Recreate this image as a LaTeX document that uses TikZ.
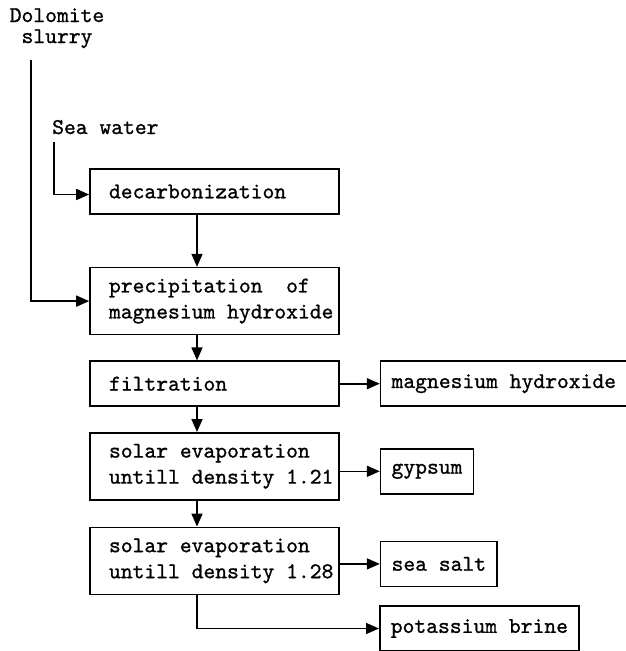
\documentclass[tikz,border=0pt]{standalone}
\usepackage{fontspec}
\usepackage{tikz}
\usetikzlibrary{positioning,arrows.meta}
\newfontfamily\typewriter[FakeBold=1]{lmmono10-regular.otf}

\begin{document}
\begin{tikzpicture}[
        x=1pt, y=-1pt,
        font=\fontsize{22.5}{26}\selectfont\typewriter,
        stage/.style={
            draw,
            rectangle,
            line width=1.6pt,
            text width=240pt,
            inner xsep=4.5pt,
            align=left,
            execute at begin node={\leftskip=14.5pt\spaceskip=\fontdimen2\font\relax},
            minimum height=45pt
        },
        tall/.style={
            stage,
            minimum height=67pt
        },
        product/.style={
            draw,
            rectangle,
            line width=1.6pt,
            inner xsep=11pt,
            minimum height=45pt
        },
        arrow/.style={
            -{Triangle[length=13pt,width=11pt]},
            line width=1.6pt
        },
        feed/.style={
            inner sep=0pt
        }
    ]
        \useasboundingbox (0,0) rectangle (626,651);
        % feeds
        \node (dolo) [feed, align=center, font=\fontsize{22.5}{21}\selectfont\typewriter] at (57,28.2) {Dolomite\\slurry};
        \node (sea) [feed, anchor=base west] at (52,134) {Sea water};
        \coordinate (doloin) at (31,60);
        \coordinate (seain) at (54,142);
        % process column
        \node (decarb) [stage] at (214.5,191.5) {decarbonization};
        \node (precip) [tall, below=52pt of decarb] {precipitation\ \ of\\magnesium hydroxide};
        \node (filt) [stage, below=25pt of precip] {filtration};
        \node (solar1) [tall, below=25pt of filt] {solar evaporation\\untill density 1.21};
        \node (solar2) [tall, below=26pt of solar1] {solar evaporation\\untill density 1.28};
        % products
        \node (mag) [product, right=40pt of filt] {magnesium hydroxide};
        \node (gyp) [product, right=40pt of solar1, yshift=-5pt] {gypsum};
        \node (salt) [product, right=40pt of solar2, yshift=-3pt] {sea salt};
        \node (brine) [product, anchor=west] at (379,628.5) {potassium brine};
        % connectors
        \draw[arrow] (seain) |- ([yshift=-3pt]decarb.west);
        \draw[arrow] (doloin) |- (precip.west);
        \draw[arrow] ([xshift=-17.5pt]decarb.south) -- ([xshift=-17.5pt]precip.north);
        \draw[arrow] ([xshift=-17.5pt]precip.south) -- ([xshift=-17.5pt]filt.north);
        \draw[arrow] ([xshift=-17.5pt]filt.south) -- ([xshift=-17.5pt]solar1.north);
        \draw[arrow] ([xshift=-17.5pt]solar1.south) -- ([xshift=-17.5pt]solar2.north);
        \draw[arrow] ([xshift=-17.5pt]solar2.south) |- (brine);
        \draw[arrow] (filt.east |- mag) -- (mag);
        \draw[arrow] (solar1.east |- gyp) -- (gyp);
        \draw[arrow] (solar2.east |- salt) -- (salt);
    \end{tikzpicture}
\end{document}
